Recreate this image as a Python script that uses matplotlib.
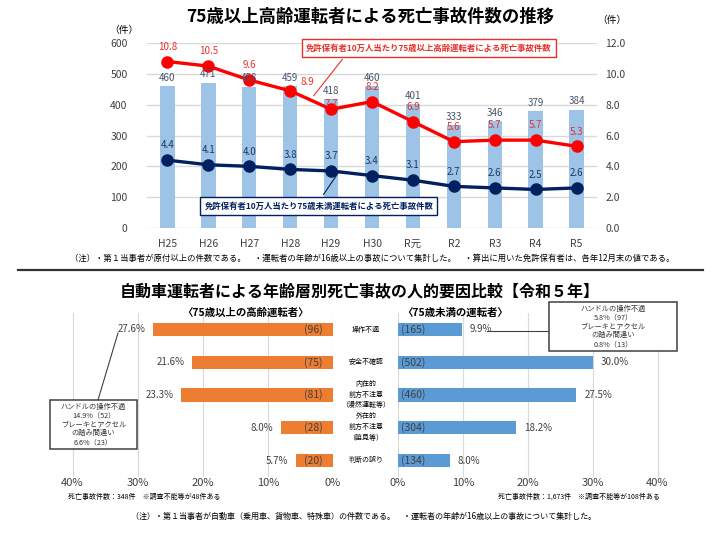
import matplotlib.pyplot as plt
import matplotlib.patches as patches
import numpy as np

plt.rcParams['font.family'] = ['Noto Sans CJK JP', 'DejaVu Sans']

# --- top chart data ---
years = ['H25', 'H26', 'H27', 'H28', 'H29', 'H30', 'R元', 'R2', 'R3', 'R4', 'R5']
accidents = [460, 471, 458, 459, 418, 460, 401, 333, 346, 379, 384]
rate_75over = [10.8, 10.5, 9.6, 8.9, 7.7, 8.2, 6.9, 5.6, 5.7, 5.7, 5.3]
rate_75under = [4.4, 4.1, 4.0, 3.8, 3.7, 3.4, 3.1, 2.7, 2.6, 2.5, 2.6]

# --- bottom chart data ---
factors = ['操作不適', '安全不確認', '内在的\n前方不注意\n（漫然運転等）',
           '外在的\n前方不注意\n（脇見等）', '判断の誤り']
old_pct = [27.6, 21.6, 23.3, 8.0, 5.7]
old_cnt = [96, 75, 81, 28, 20]
young_pct = [9.9, 30.0, 27.5, 18.2, 8.0]
young_cnt = [165, 502, 460, 304, 134]

W, H = 720, 537
fig = plt.figure(figsize=(7.2, 5.37), dpi=100)


def px(x0, y0, x1, y1):
    # pixel box (top-left origin) -> figure fraction rect
    return [x0 / W, 1 - y1 / H, (x1 - x0) / W, (y1 - y0) / H]


def ft(x, y, s, **kw):
    fig.text(x / W, 1 - y / H, s, **kw)


def fline(x0, y0, x1, y1, **kw):
    fig.add_artist(plt.Line2D([x0 / W, x1 / W], [1 - y0 / H, 1 - y1 / H], **kw))


def fbox(x0, y0, x1, y1, text):
    fig.add_artist(patches.Rectangle((x0 / W, 1 - y1 / H), (x1 - x0) / W, (y1 - y0) / H,
                                     transform=fig.transFigure, fc='white',
                                     ec='#404040', lw=1.1, zorder=5))
    ft((x0 + x1) / 2, (y0 + y1) / 2, text, ha='center', va='center', fontsize=5.2,
       linespacing=1.12, color='#333333', zorder=6)


# ================= top chart =================
ax = fig.add_axes(px(147, 43, 597, 228))
x = np.arange(len(years))
ax.bar(x, accidents, width=0.35, color='#9DC3E6', zorder=2)
ax.set_ylim(0, 600)
ax.set_xlim(-0.5, len(years) - 0.5)
ax.set_yticks(range(0, 601, 100))
ax.set_xticks(x)
ax.set_xticklabels(years)
ax.grid(axis='y', color='#D9D9D9', linewidth=1, zorder=0)
for s in ax.spines.values():
    s.set_visible(False)
ax.tick_params(length=0, labelsize=7.5, colors='#404040', pad=8)
ax.tick_params(axis='y', pad=14)

ax2 = ax.twinx()
ax2.set_ylim(0, 12)
ax2.set_yticks(np.arange(0, 12.1, 2))
ax2.set_yticklabels([f'{v:.1f}' for v in np.arange(0, 12.1, 2)])
for s in ax2.spines.values():
    s.set_visible(False)
ax2.tick_params(length=0, labelsize=7.5, colors='#404040', pad=6)
ax2.plot(x, rate_75over, color='#FF0000', lw=2.4, marker='o', ms=8, zorder=3)
ax2.plot(x, rate_75under, color='#002060', lw=2.4, marker='o', ms=8, zorder=3)

# bar labels drawn on ax2 so they sit above the red markers
for i, v in enumerate(accidents):
    ax2.annotate(str(v), (i, v / 50), xytext=(0, 2.5), textcoords='offset points',
                 ha='center', va='bottom', fontsize=7, color='#44546A', zorder=4)
for i, v in enumerate(rate_75over):
    off = {3: (12, 3), 4: (0, 0.5)}.get(i, (0, 7))
    ax2.annotate(f'{v:.1f}', (i, v), xytext=off, textcoords='offset points',
                 ha='center', va='bottom', fontsize=7, color='#E8302A', zorder=4)
for i, v in enumerate(rate_75under):
    ax2.annotate(f'{v:.1f}', (i, v), xytext=(0, 7), textcoords='offset points',
                 ha='center', va='bottom', fontsize=7, color='#1F3864', zorder=4)

ax2.annotate('免許保有者10万人当たり75歳以上高齢運転者による死亡事故件数',
             xy=(3.53, 8.43), xytext=(6.39, 11.68), ha='center', va='center',
             fontsize=6, color='#E8302A', fontweight='bold',
             bbox=dict(boxstyle='square,pad=0.5', fc='white', ec='#E8302A', lw=1),
             arrowprops=dict(arrowstyle='-', color='#E8302A', lw=0.8,
                             relpos=(0.17, 0)))
ax2.annotate('免許保有者10万人当たり75歳未満運転者による死亡事故件数',
             xy=(4.22, 3.76), xytext=(3.7, 1.43), ha='center', va='center',
             fontsize=6, color='#002060', fontweight='bold',
             bbox=dict(boxstyle='square,pad=0.5', fc='white', ec='#002060', lw=1),
             arrowprops=dict(arrowstyle='-', color='#002060', lw=0.8,
                             relpos=(0.5, 1)))

ft(370, 17, '75歳以上高齢運転者による死亡事故件数の推移', ha='center', va='center',
   fontsize=12.5, fontweight='bold')
ft(124, 30, '（件）', ha='center', va='center', fontsize=7)
ft(612, 20, '（件）', ha='center', va='center', fontsize=7)
ft(372, 258, '（注）・第１当事者が原付以上の件数である。　・運転者の年齢が16歳以上の事故について集計した。　・算出に用いた免許保有者は、各年12月末の値である。',
   ha='center', va='center', fontsize=6)
fline(18, 270, 703, 270, color='#333333', lw=1.6)

# ================= bottom charts =================
ft(360, 292, '自動車運転者による年齢層別死亡事故の人的要因比較【令和５年】',
   ha='center', va='center', fontsize=11.5, fontweight='bold')
ft(245, 313, '〈75歳以上の高齢運転者〉', ha='center', va='center',
   fontsize=7.5, fontweight='bold')
ft(455, 313, '〈75歳未満の運転者〉', ha='center', va='center',
   fontsize=7.5, fontweight='bold')

y = np.arange(len(factors))
pct_ticks = [0, 10, 20, 30, 40]

axl = fig.add_axes(px(40, 313, 333, 477))
axl.barh(y, old_pct, height=0.4, color='#ED7D31', zorder=2)
axl.set_xlim(45, 0)
axl.set_ylim(len(factors) - 0.5, -0.5)
for i, (p, c) in enumerate(zip(old_pct, old_cnt)):
    axl.text(p + 1.2, i, f'{p:.1f}%', ha='right', va='center', fontsize=7, color='#404040')
    axl.text(1.6, i, f'({c})', ha='right', va='center', fontsize=7.5, color='#404040')

axr = fig.add_axes(px(398, 313, 690, 477))
axr.barh(y, young_pct, height=0.4, color='#5B9BD5', zorder=2)
axr.set_xlim(0, 45)
axr.set_ylim(len(factors) - 0.5, -0.5)
for i, (p, c) in enumerate(zip(young_pct, young_cnt)):
    axr.text(p + 1.2, i, f'{p:.1f}%', ha='left', va='center', fontsize=7, color='#404040')
    axr.text(0.4, i, f'({c})', ha='left', va='center', fontsize=7.5, color='#404040')

for a in (axl, axr):
    a.set_xticks(pct_ticks)
    a.set_xticklabels([f'{t}%' for t in pct_ticks])
    a.set_yticks([])
    a.grid(axis='x', color='#D9D9D9', lw=0.8, zorder=0)
    for s in a.spines.values():
        s.set_visible(False)
    a.tick_params(length=0, labelsize=8, colors='#404040', pad=1)

for i, f in enumerate(factors):
    ft(366, 330 + i * 32.4, f, ha='center', va='center', fontsize=5, linespacing=1.45)

# annotation boxes with leader lines
fline(118, 333, 98, 400, color='#404040', lw=0.8)
fbox(50, 400, 137, 449, 'ハンドルの操作不適\n14.9%（52）\nブレーキとアクセル\nの踏み間違い\n6.6%（23）')
fline(487, 331, 549, 331, color='#404040', lw=0.8)
fbox(549, 302, 677, 351, 'ハンドルの操作不適\n5.8%（97）\nブレーキとアクセル\nの踏み間違い\n0.8%（13）')

ft(68, 497, '死亡事故件数：348件　※調査不能等が48件ある', ha='left', va='center', fontsize=5)
ft(498, 497, '死亡事故件数：1,673件　※調査不能等が108件ある', ha='left', va='center', fontsize=5)
ft(364, 516, '（注）・第１当事者が自動車（乗用車、貨物車、特殊車）の件数である。　・運転者の年齢が16歳以上の事故について集計した。',
   ha='center', va='center', fontsize=5.8)

fig.savefig('out.png', dpi=100)
